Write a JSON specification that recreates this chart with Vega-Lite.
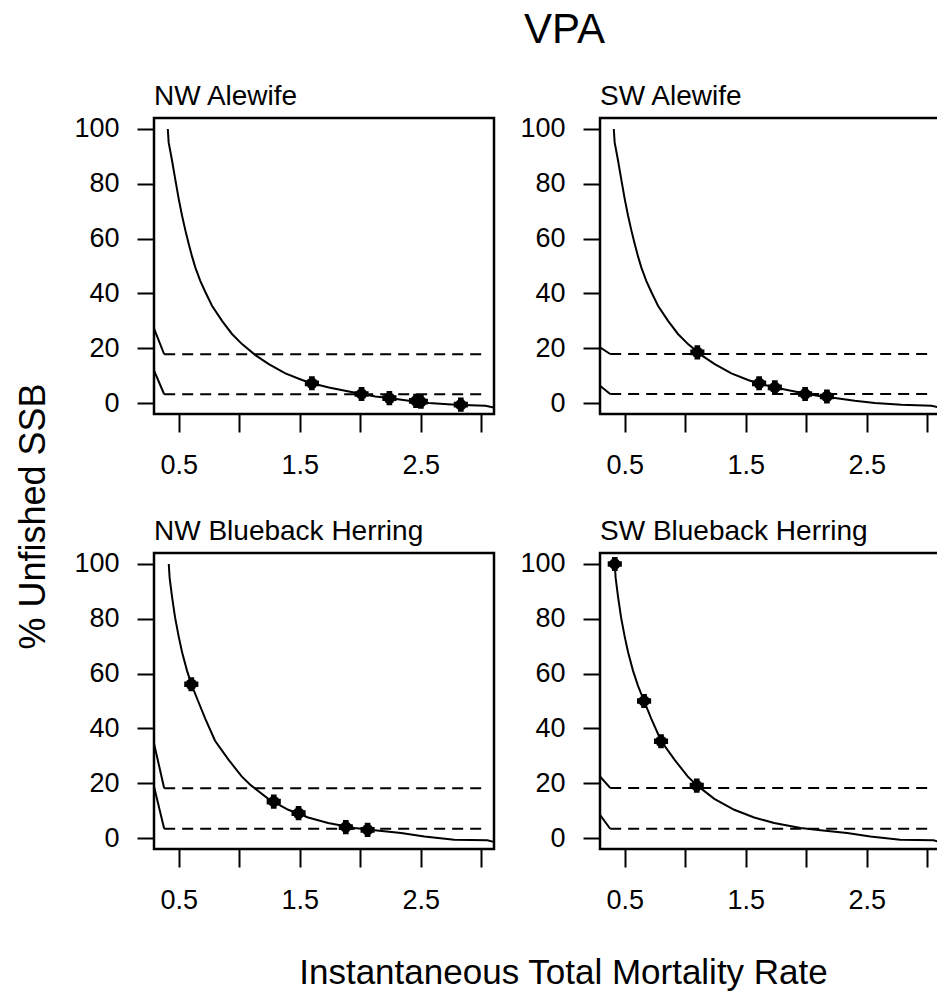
{
  "$schema": "https://vega.github.io/schema/vega-lite/v6.json",
  "background": "white",
  "padding": {"left": 13, "top": 8, "right": 0, "bottom": 0},
  "title": {"text": "VPA", "fontSize": 42, "fontWeight": "normal", "font": "Liberation Sans", "color": "black", "anchor": "start", "frame": "group", "dx": 370, "offset": 30},
  "bounds": "flush",
  "columns": 2,
  "spacing": {"row": 139, "column": 106},
  "datasets": {
    "curve": [
      {"sp": "alewife", "z": 0.41, "v": 100}, {"sp": "alewife", "z": 0.417, "v": 95.1}, {"sp": "alewife", "z": 0.445, "v": 88.5},
      {"sp": "alewife", "z": 0.472, "v": 81.5}, {"sp": "alewife", "z": 0.5, "v": 74.5}, {"sp": "alewife", "z": 0.527, "v": 68.5},
      {"sp": "alewife", "z": 0.555, "v": 63.0}, {"sp": "alewife", "z": 0.583, "v": 58.0}, {"sp": "alewife", "z": 0.61, "v": 53.5},
      {"sp": "alewife", "z": 0.637, "v": 49.5}, {"sp": "alewife", "z": 0.679, "v": 44.5}, {"sp": "alewife", "z": 0.72, "v": 40.5},
      {"sp": "alewife", "z": 0.775, "v": 35.5}, {"sp": "alewife", "z": 0.858, "v": 30.0}, {"sp": "alewife", "z": 0.94, "v": 25.2},
      {"sp": "alewife", "z": 1.023, "v": 21.5}, {"sp": "alewife", "z": 1.133, "v": 17.5}, {"sp": "alewife", "z": 1.244, "v": 14.2},
      {"sp": "alewife", "z": 1.381, "v": 10.8}, {"sp": "alewife", "z": 1.519, "v": 8.4}, {"sp": "alewife", "z": 1.6, "v": 7.2},
      {"sp": "alewife", "z": 1.74, "v": 5.7}, {"sp": "alewife", "z": 1.905, "v": 4.2}, {"sp": "alewife", "z": 2.015, "v": 3.3},
      {"sp": "alewife", "z": 2.125, "v": 2.4}, {"sp": "alewife", "z": 2.236, "v": 1.8}, {"sp": "alewife", "z": 2.4, "v": 0.8},
      {"sp": "alewife", "z": 2.566, "v": 0.0}, {"sp": "alewife", "z": 2.786, "v": -0.6}, {"sp": "alewife", "z": 3.034, "v": -1.0},
      {"sp": "alewife", "z": 3.1, "v": -1.6},
      {"sp": "blueback", "z": 0.418, "v": 100}, {"sp": "blueback", "z": 0.425, "v": 95}, {"sp": "blueback", "z": 0.445, "v": 88},
      {"sp": "blueback", "z": 0.47, "v": 80.5}, {"sp": "blueback", "z": 0.5, "v": 73.5}, {"sp": "blueback", "z": 0.528, "v": 67.8},
      {"sp": "blueback", "z": 0.569, "v": 61}, {"sp": "blueback", "z": 0.61, "v": 55.5}, {"sp": "blueback", "z": 0.66, "v": 50},
      {"sp": "blueback", "z": 0.72, "v": 43.5}, {"sp": "blueback", "z": 0.8, "v": 35.5}, {"sp": "blueback", "z": 0.911, "v": 28.6},
      {"sp": "blueback", "z": 1.02, "v": 22.5}, {"sp": "blueback", "z": 1.095, "v": 19.3}, {"sp": "blueback", "z": 1.24, "v": 14.3},
      {"sp": "blueback", "z": 1.405, "v": 10.3}, {"sp": "blueback", "z": 1.569, "v": 7.5}, {"sp": "blueback", "z": 1.734, "v": 5.5},
      {"sp": "blueback", "z": 1.953, "v": 3.7}, {"sp": "blueback", "z": 2.118, "v": 2.8}, {"sp": "blueback", "z": 2.337, "v": 1.8},
      {"sp": "blueback", "z": 2.529, "v": 0.6}, {"sp": "blueback", "z": 2.775, "v": -0.6}, {"sp": "blueback", "z": 3.05, "v": -0.8},
      {"sp": "blueback", "z": 3.1, "v": -1.4}
    ],
    "ref": [
      {"panel": "NW Alewife", "g": "hi", "z": 0.38, "v": 17.8}, {"panel": "NW Alewife", "g": "hi", "z": 3.0, "v": 17.8},
      {"panel": "NW Alewife", "g": "lo", "z": 0.38, "v": 3.2}, {"panel": "NW Alewife", "g": "lo", "z": 3.0, "v": 3.2},
      {"panel": "SW Alewife", "g": "hi", "z": 0.38, "v": 17.9}, {"panel": "SW Alewife", "g": "hi", "z": 3.0, "v": 17.9},
      {"panel": "SW Alewife", "g": "lo", "z": 0.38, "v": 3.3}, {"panel": "SW Alewife", "g": "lo", "z": 3.0, "v": 3.3},
      {"panel": "NW Blueback Herring", "g": "hi", "z": 0.38, "v": 18.2}, {"panel": "NW Blueback Herring", "g": "hi", "z": 3.0, "v": 18.2},
      {"panel": "NW Blueback Herring", "g": "lo", "z": 0.38, "v": 3.4}, {"panel": "NW Blueback Herring", "g": "lo", "z": 3.0, "v": 3.4},
      {"panel": "SW Blueback Herring", "g": "hi", "z": 0.38, "v": 18.3}, {"panel": "SW Blueback Herring", "g": "hi", "z": 3.0, "v": 18.3},
      {"panel": "SW Blueback Herring", "g": "lo", "z": 0.38, "v": 3.4}, {"panel": "SW Blueback Herring", "g": "lo", "z": 3.0, "v": 3.4}
    ],
    "slant": [
      {"panel": "NW Alewife", "g": "hi", "z": 0.296, "v": 27.2}, {"panel": "NW Alewife", "g": "hi", "z": 0.38, "v": 17.8},
      {"panel": "NW Alewife", "g": "lo", "z": 0.296, "v": 11.9}, {"panel": "NW Alewife", "g": "lo", "z": 0.38, "v": 3.2},
      {"panel": "SW Alewife", "g": "hi", "z": 0.296, "v": 20.3}, {"panel": "SW Alewife", "g": "hi", "z": 0.38, "v": 17.9},
      {"panel": "SW Alewife", "g": "lo", "z": 0.296, "v": 6.3}, {"panel": "SW Alewife", "g": "lo", "z": 0.38, "v": 3.3},
      {"panel": "NW Blueback Herring", "g": "hi", "z": 0.296, "v": 34.5}, {"panel": "NW Blueback Herring", "g": "hi", "z": 0.38, "v": 18.2},
      {"panel": "NW Blueback Herring", "g": "lo", "z": 0.296, "v": 18.8}, {"panel": "NW Blueback Herring", "g": "lo", "z": 0.38, "v": 3.4},
      {"panel": "SW Blueback Herring", "g": "hi", "z": 0.296, "v": 22.5}, {"panel": "SW Blueback Herring", "g": "hi", "z": 0.38, "v": 18.3},
      {"panel": "SW Blueback Herring", "g": "lo", "z": 0.296, "v": 8.5}, {"panel": "SW Blueback Herring", "g": "lo", "z": 0.38, "v": 3.4}
    ],
    "pts": [
      {"panel": "NW Alewife", "z": 1.6, "v": 7.2}, {"panel": "NW Alewife", "z": 2.01, "v": 3.3}, {"panel": "NW Alewife", "z": 2.24, "v": 1.8},
      {"panel": "NW Alewife", "z": 2.46, "v": 0.8}, {"panel": "NW Alewife", "z": 2.5, "v": 0.5}, {"panel": "NW Alewife", "z": 2.83, "v": -0.6},
      {"panel": "SW Alewife", "z": 1.1, "v": 18.5}, {"panel": "SW Alewife", "z": 1.61, "v": 7.2}, {"panel": "SW Alewife", "z": 1.74, "v": 5.7},
      {"panel": "SW Alewife", "z": 1.99, "v": 3.3}, {"panel": "SW Alewife", "z": 2.17, "v": 2.4},
      {"panel": "NW Blueback Herring", "z": 0.604, "v": 56.1}, {"panel": "NW Blueback Herring", "z": 1.285, "v": 13.3},
      {"panel": "NW Blueback Herring", "z": 1.49, "v": 9.1}, {"panel": "NW Blueback Herring", "z": 1.88, "v": 4.0},
      {"panel": "NW Blueback Herring", "z": 2.06, "v": 3.0},
      {"panel": "SW Blueback Herring", "z": 0.418, "v": 100}, {"panel": "SW Blueback Herring", "z": 0.66, "v": 50},
      {"panel": "SW Blueback Herring", "z": 0.8, "v": 35.3}, {"panel": "SW Blueback Herring", "z": 1.095, "v": 19.1}
    ]
  },
  "concat": [
    {
      "title": {"text": "NW Alewife"},
      "width": 340, "height": 296,
      "encoding": {
        "x": {"field": "z", "type": "quantitative", "scale": {"domain": [0.296, 3.104], "nice": false, "zero": false},
              "axis": {"title": null, "values": [0.5, 1, 1.5, 2, 2.5, 3], "labelExpr": "(datum.value == 0.5 || datum.value == 1.5 || datum.value == 2.5) ? format(datum.value, '.1f') : ''"}},
        "y": {"field": "v", "type": "quantitative", "scale": {"domain": [-4, 104], "nice": false, "zero": false},
              "axis": {"values": [0, 20, 40, 60, 80, 100], "title": "% Unfished SSB", "titleFontSize": 36, "titleX": -110, "titleY": 398, "titleAlign": "center", "titleBaseline": "alphabetic", "titleAngle": -90}}
      },
      "layer": [
        {"data": {"name": "curve"}, "transform": [{"filter": "datum.sp == 'alewife'"}], "mark": {"type": "line", "color": "black", "strokeWidth": 2, "clip": true}, "encoding": {"order": {"field": "z"}}},
        {"data": {"name": "ref"}, "transform": [{"filter": "datum.panel == 'NW Alewife'"}], "mark": {"type": "line", "color": "black", "strokeWidth": 2, "strokeDash": [11, 7], "clip": true}, "encoding": {"detail": {"field": "g"}}},
        {"data": {"name": "slant"}, "transform": [{"filter": "datum.panel == 'NW Alewife'"}], "mark": {"type": "line", "color": "black", "strokeWidth": 2, "clip": true}, "encoding": {"detail": {"field": "g"}}},
        {"data": {"name": "pts"}, "transform": [{"filter": "datum.panel == 'NW Alewife'"}], "mark": {"type": "point", "shape": "circle", "filled": true, "size": 130, "color": "black", "opacity": 1}},
        {"data": {"name": "pts"}, "transform": [{"filter": "datum.panel == 'NW Alewife'"}], "mark": {"type": "point", "shape": "cross", "filled": true, "size": 200, "color": "black", "opacity": 1}}
      ]
    },
    {
      "title": {"text": "SW Alewife"},
      "width": 340, "height": 296,
      "encoding": {
        "x": {"field": "z", "type": "quantitative", "scale": {"domain": [0.296, 3.104], "nice": false, "zero": false},
              "axis": {"title": null, "values": [0.5, 1, 1.5, 2, 2.5, 3], "labelExpr": "(datum.value == 0.5 || datum.value == 1.5 || datum.value == 2.5) ? format(datum.value, '.1f') : ''"}},
        "y": {"field": "v", "type": "quantitative", "scale": {"domain": [-4, 104], "nice": false, "zero": false}, "axis": {"title": null, "values": [0, 20, 40, 60, 80, 100]}}
      },
      "layer": [
        {"data": {"name": "curve"}, "transform": [{"filter": "datum.sp == 'alewife'"}], "mark": {"type": "line", "color": "black", "strokeWidth": 2, "clip": true}, "encoding": {"order": {"field": "z"}}},
        {"data": {"name": "ref"}, "transform": [{"filter": "datum.panel == 'SW Alewife'"}], "mark": {"type": "line", "color": "black", "strokeWidth": 2, "strokeDash": [11, 7], "clip": true}, "encoding": {"detail": {"field": "g"}}},
        {"data": {"name": "slant"}, "transform": [{"filter": "datum.panel == 'SW Alewife'"}], "mark": {"type": "line", "color": "black", "strokeWidth": 2, "clip": true}, "encoding": {"detail": {"field": "g"}}},
        {"data": {"name": "pts"}, "transform": [{"filter": "datum.panel == 'SW Alewife'"}], "mark": {"type": "point", "shape": "circle", "filled": true, "size": 130, "color": "black", "opacity": 1}},
        {"data": {"name": "pts"}, "transform": [{"filter": "datum.panel == 'SW Alewife'"}], "mark": {"type": "point", "shape": "cross", "filled": true, "size": 200, "color": "black", "opacity": 1}}
      ]
    },
    {
      "title": {"text": "NW Blueback Herring"},
      "width": 340, "height": 296,
      "encoding": {
        "x": {"field": "z", "type": "quantitative", "scale": {"domain": [0.296, 3.104], "nice": false, "zero": false},
              "axis": {"values": [0.5, 1, 1.5, 2, 2.5, 3], "labelExpr": "(datum.value == 0.5 || datum.value == 1.5 || datum.value == 2.5) ? format(datum.value, '.1f') : ''", "title": "Instantaneous Total Mortality Rate", "titleFontSize": 35, "titleX": 409, "titleY": 134, "titleAlign": "center", "titleBaseline": "alphabetic"}},
        "y": {"field": "v", "type": "quantitative", "scale": {"domain": [-4, 104], "nice": false, "zero": false}, "axis": {"title": null, "values": [0, 20, 40, 60, 80, 100]}}
      },
      "layer": [
        {"data": {"name": "curve"}, "transform": [{"filter": "datum.sp == 'blueback'"}], "mark": {"type": "line", "color": "black", "strokeWidth": 2, "clip": true}, "encoding": {"order": {"field": "z"}}},
        {"data": {"name": "ref"}, "transform": [{"filter": "datum.panel == 'NW Blueback Herring'"}], "mark": {"type": "line", "color": "black", "strokeWidth": 2, "strokeDash": [11, 7], "clip": true}, "encoding": {"detail": {"field": "g"}}},
        {"data": {"name": "slant"}, "transform": [{"filter": "datum.panel == 'NW Blueback Herring'"}], "mark": {"type": "line", "color": "black", "strokeWidth": 2, "clip": true}, "encoding": {"detail": {"field": "g"}}},
        {"data": {"name": "pts"}, "transform": [{"filter": "datum.panel == 'NW Blueback Herring'"}], "mark": {"type": "point", "shape": "circle", "filled": true, "size": 130, "color": "black", "opacity": 1}},
        {"data": {"name": "pts"}, "transform": [{"filter": "datum.panel == 'NW Blueback Herring'"}], "mark": {"type": "point", "shape": "cross", "filled": true, "size": 200, "color": "black", "opacity": 1}}
      ]
    },
    {
      "title": {"text": "SW Blueback Herring"},
      "width": 340, "height": 296,
      "encoding": {
        "x": {"field": "z", "type": "quantitative", "scale": {"domain": [0.296, 3.104], "nice": false, "zero": false},
              "axis": {"title": null, "values": [0.5, 1, 1.5, 2, 2.5, 3], "labelExpr": "(datum.value == 0.5 || datum.value == 1.5 || datum.value == 2.5) ? format(datum.value, '.1f') : ''"}},
        "y": {"field": "v", "type": "quantitative", "scale": {"domain": [-4, 104], "nice": false, "zero": false}, "axis": {"title": null, "values": [0, 20, 40, 60, 80, 100]}}
      },
      "layer": [
        {"data": {"name": "curve"}, "transform": [{"filter": "datum.sp == 'blueback'"}], "mark": {"type": "line", "color": "black", "strokeWidth": 2, "clip": true}, "encoding": {"order": {"field": "z"}}},
        {"data": {"name": "ref"}, "transform": [{"filter": "datum.panel == 'SW Blueback Herring'"}], "mark": {"type": "line", "color": "black", "strokeWidth": 2, "strokeDash": [11, 7], "clip": true}, "encoding": {"detail": {"field": "g"}}},
        {"data": {"name": "slant"}, "transform": [{"filter": "datum.panel == 'SW Blueback Herring'"}], "mark": {"type": "line", "color": "black", "strokeWidth": 2, "clip": true}, "encoding": {"detail": {"field": "g"}}},
        {"data": {"name": "pts"}, "transform": [{"filter": "datum.panel == 'SW Blueback Herring'"}], "mark": {"type": "point", "shape": "circle", "filled": true, "size": 130, "color": "black", "opacity": 1}},
        {"data": {"name": "pts"}, "transform": [{"filter": "datum.panel == 'SW Blueback Herring'"}], "mark": {"type": "point", "shape": "cross", "filled": true, "size": 200, "color": "black", "opacity": 1}}
      ]
    }
  ],
  "config": {
    "font": "Liberation Sans",
    "view": {"stroke": "black", "strokeWidth": 2.5},
    "title": {"fontSize": 28, "fontWeight": "normal", "font": "Liberation Sans", "color": "black", "anchor": "start", "frame": "group", "offset": 0},
    "axis": {"domain": false, "grid": false, "ticks": true, "tickColor": "black", "tickWidth": 2, "labelColor": "black", "labelFontSize": 27, "labelFont": "Liberation Sans", "titleFont": "Liberation Sans", "titleFontWeight": "normal", "titleColor": "black", "labelFlush": false, "labelOverlap": false},
    "axisX": {"tickSize": 18, "labelPadding": 20},
    "axisY": {"tickSize": 17, "labelPadding": 18}
  }
}
